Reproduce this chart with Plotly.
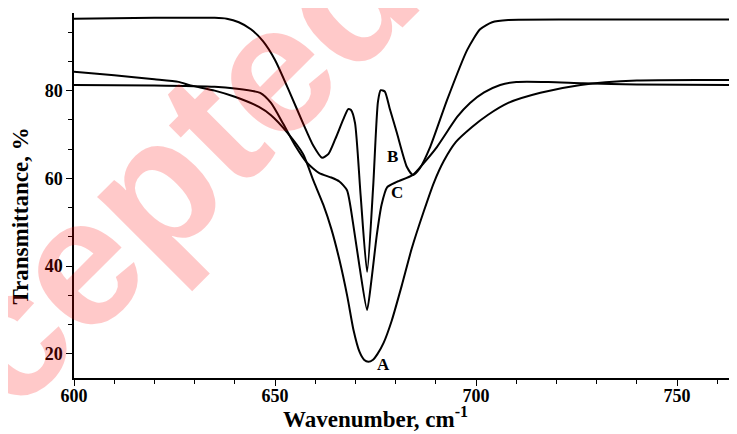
import plotly.graph_objects as go

# Curve A (broad band)
a_x = [600, 610, 620, 626, 629, 635, 640, 646, 649, 653, 657, 659.5, 662, 664, 666, 668, 669.5, 671, 672.2, 673.2, 674.3, 675.5, 677, 679, 681.5, 684, 687, 689.5, 692, 695, 699, 703, 708, 716, 726, 740, 765]
a_y = [84.3, 83.5, 82.6, 82.0, 81.2, 80.0, 78.6, 76.3, 74.4, 70.5, 65.5, 59.6, 54.0, 48.5, 41.5, 33.0, 25.5, 20.5, 18.6, 18.2, 18.6, 20.0, 22.5, 27.5, 35.5, 44.0, 52.5, 59.0, 64.0, 68.3, 71.7, 74.5, 77.2, 79.5, 81.3, 82.3, 82.4]

# Curve B (two side bands)
b_x = [600, 620, 635, 638, 641, 644, 647, 650, 653.7, 657, 659.5, 661.7, 663.3, 665, 667, 668.2, 668.9, 669.9, 671.3, 672.9, 674.4, 675.6, 676.3, 677.3, 678.5, 680.3, 682.8, 684.3, 686, 688.6, 692.8, 697.8, 701, 704, 708, 730, 765]
b_y = [96.4, 96.6, 96.6, 96.4, 95.6, 94.0, 91.3, 87.0, 79.5, 72.5, 67.5, 64.7, 65.6, 69.0, 73.5, 75.8, 75.6, 72.6, 56.0, 38.7, 58.0, 77.5, 80.1, 79.8, 76.0, 70.4, 62.6, 60.8, 62.3, 67.2, 77.9, 89.3, 94.0, 95.6, 96.1, 96.2, 96.2]

# Curve C (shoulder band)
c_x = [600, 620, 635, 640, 646.3, 649, 652, 655, 658, 661, 664, 666, 667.9, 669.4, 671, 672.9, 674, 675.3, 676.5, 677.9, 680.3, 684.3, 687, 690.3, 695.3, 698.5, 702, 706, 710, 718, 726.6, 740, 765]
c_y = [81.3, 81.2, 80.9, 80.5, 79.5, 77.2, 72.5, 67.5, 63.5, 61.2, 60.2, 59.3, 57.3, 49.8, 40.0, 30.0, 37.0, 47.0, 54.0, 58.0, 59.2, 60.8, 63.5, 67.2, 74.0, 77.2, 79.6, 81.3, 82.0, 82.0, 81.7, 81.4, 81.3]

curve_labels = ["A", "B", "C"]
label_x = [677.0, 679.1, 680.3]
label_y = [17.5, 64.9, 56.7]

x_ticks = [600, 650, 700, 750]
y_ticks = [20, 40, 60, 80]
x_title = "Wavenumber, cm<sup>-1</sup>"
y_title = "Transmittance, %"

SERIF = "Liberation Serif, Times New Roman, serif"

fig = go.Figure()
for xs, ys in [(a_x, a_y), (b_x, b_y), (c_x, c_y)]:
    fig.add_trace(go.Scatter(x=xs, y=ys, mode="lines",
                             line=dict(color="black", width=2, shape="spline", smoothing=0.6),
                             showlegend=False, hoverinfo="skip"))

for t, lx, ly in zip(curve_labels, label_x, label_y):
    fig.add_annotation(x=lx, y=ly, text=t, showarrow=False, xref="x", yref="y",
                       font=dict(family=SERIF, size=17, color="black", weight="bold"))

# axis titles
fig.add_annotation(x=0.4555, y=-0.108, xref="paper", yref="paper", text=x_title,
                   showarrow=False, xanchor="center", yanchor="middle",
                   font=dict(family=SERIF, size=23, color="black", weight="bold"))
fig.add_annotation(x=-0.0814, y=0.4425, xref="paper", yref="paper", text=y_title,
                   showarrow=False, xanchor="center", yanchor="middle", textangle=-90,
                   font=dict(family=SERIF, size=23, color="black", weight="bold"))

# watermark
fig.add_annotation(x=0.03, y=0.36, xref="paper", yref="paper", text="Accepted",
                   showarrow=False, textangle=-45, xanchor="center", yanchor="middle",
                   font=dict(family="Liberation Sans, Arial, sans-serif", size=182,
                             color="rgba(255,0,0,0.21)", weight="bold"))

# page body has an 8px margin, so the figure is sized/margined to compensate
fig.update_layout(
    width=729, height=426,
    margin=dict(l=66, r=0, t=5, b=56, autoexpand=False),
    paper_bgcolor="white", plot_bgcolor="white",
    showlegend=False,
)
fig.update_xaxes(
    range=[600, 764.9], showgrid=False, zeroline=False,
    showline=True, linecolor="black", linewidth=1.5,
    tickmode="array", tickvals=x_ticks, ticks="outside", ticklen=6, tickwidth=1.2, tickcolor="black",
    minor=dict(dtick=10, tick0=600, ticks="outside", ticklen=4, tickwidth=1, tickcolor="black", showgrid=False),
    tickfont=dict(family=SERIF, size=18, color="black", weight="bold"),
    ticklabelstandoff=-5,
)
fig.update_yaxes(
    range=[14.5, 97.7], showgrid=False, zeroline=False,
    showline=True, linecolor="black", linewidth=1.5,
    tickmode="array", tickvals=y_ticks, ticks="outside", ticklen=6, tickwidth=1.2, tickcolor="black",
    minor=dict(dtick=20/3, tick0=20, ticks="outside", ticklen=4, tickwidth=1, tickcolor="black", showgrid=False),
    tickfont=dict(family=SERIF, size=18, color="black", weight="bold"),
)

fig.write_html("out.html")
